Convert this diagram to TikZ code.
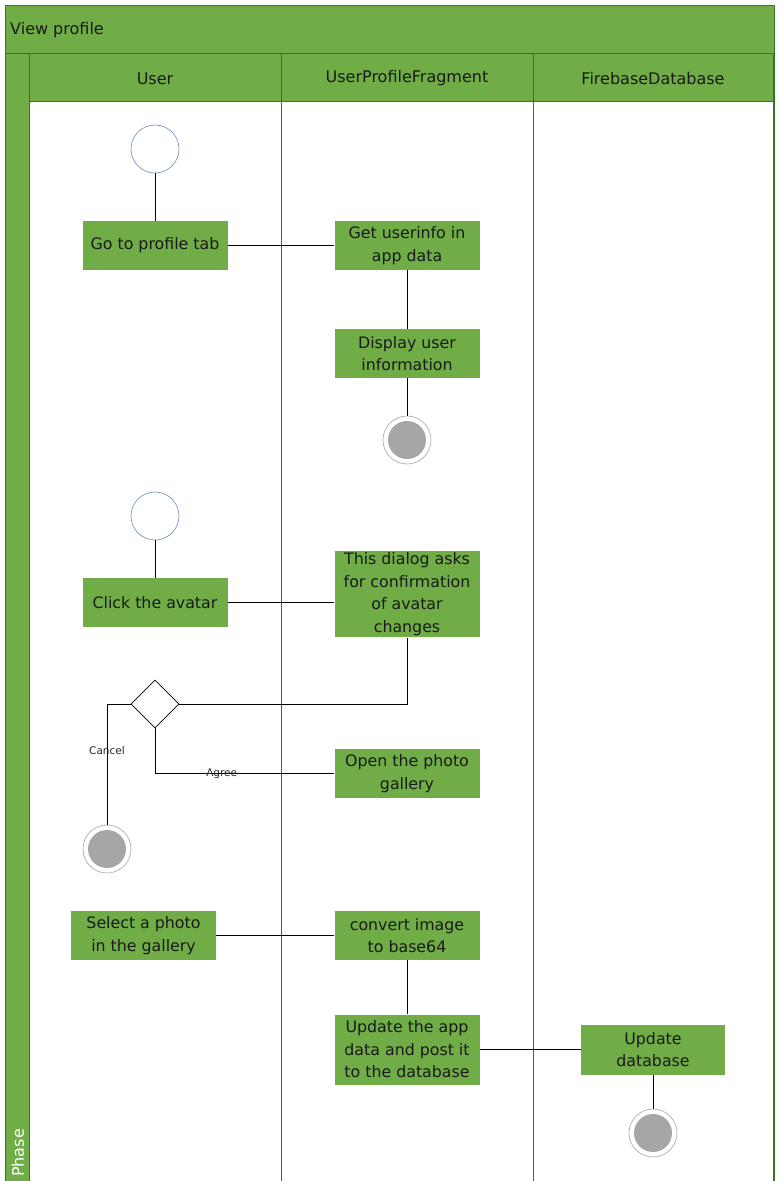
\documentclass[tikz,border=0pt]{standalone}
\usepackage{fontspec}
\setmainfont{DejaVu Sans}
\usetikzlibrary{shapes.geometric}
\definecolor{lanegreen}{HTML}{71AD47}
\definecolor{laneline}{HTML}{3B7324}
\definecolor{startblue}{HTML}{6C8EBF}
\definecolor{endgray}{HTML}{A6A6A6}
\begin{document}
\begin{tikzpicture}[x=1pt,y=-1pt,
  act/.style={rectangle,fill=lanegreen,draw=none,minimum width=145pt,
    minimum height=49pt,align=center,inner sep=2pt,font=\fontsize{15.8}{22.5}\selectfont,
    text=black!90},
  startnode/.style={circle,draw=startblue,fill=white,minimum size=48pt,inner sep=0pt,line width=0.6pt},
  endnode/.style={circle,draw=black!35,fill=white,minimum size=48pt,inner sep=0pt,line width=0.6pt,
    path picture={\fill[endgray] (path picture bounding box.center) circle (19pt);}},
  decision/.style={diamond,draw=black,fill=white,minimum size=48pt,inner sep=0pt,line width=0.8pt,aspect=1},
  flow/.style={draw=black,line width=0.9pt},
  guard/.style={font=\fontsize{10.5}{12}\selectfont,text=black!85},
  header/.style={font=\fontsize{16}{19}\selectfont,text=black!90}]
\useasboundingbox (0,0) rectangle (781,1181);
\fill[white] (0,0) rectangle (781,1181);

% pool frame, title bar, phase column and lane headers
\fill[lanegreen] (5,5) rectangle (774,53);
\fill[lanegreen] (5,53) rectangle (29,1181);
\fill[lanegreen] (29,53) rectangle (773,101);
\draw[laneline,line width=0.6pt] (5,5) rectangle (774,1181);
\draw[laneline,line width=0.6pt] (5,53) -- (774,53);
\draw[laneline,line width=0.6pt] (29,53) -- (29,1181);
\draw[laneline,line width=0.6pt] (29,101) -- (773,101);
\draw[laneline,line width=0.6pt] (281,53) -- (281,1181);
\draw[laneline,line width=0.6pt] (533,53) -- (533,1181);
\draw[laneline,line width=0.6pt] (773,53) -- (773,1181);

\node[header,anchor=west,inner sep=0pt] (title) at (10,30.5) {View profile};
\node[header] (laneUser) at (155,78.5) {User};
\node[header] (laneFrag) at (407,78.5) {UserProfileFragment};
\node[header] (laneDb) at (653,78.5) {FirebaseDatabase};
\node[header,text=white,rotate=90,anchor=west,inner sep=0pt] (phase) at (18,1177) {Phase};

% first flow: view profile
\node[startnode] (s1) at (155,149) {};
\node[act] (goTab) at (155,245.5) {Go to profile tab};
\node[act] (getInfo) at (407,245.5) {Get userinfo in\\app data};
\node[act] (display) at (407,353.5) {Display user\\information};
\node[endnode] (e1) at (407,440) {};

% second flow: change avatar
\node[startnode] (s2) at (155,516) {};
\node[act] (click) at (155,602.5) {Click the avatar};
\node[act,minimum height=85pt] (dialog) at (407,594) {This dialog asks\\for confirmation\\of avatar\\changes};
\node[decision] (choice) at (155,704) {};
\node[act] (gallery) at (407,773.5) {Open the photo\\gallery};
\node[endnode] (e2) at (107,849) {};
\node[act] (select) at (143.5,935.5) {Select a photo\\in the gallery};
\node[act] (convert) at (407,935.5) {convert image\\to base64};
\node[act,minimum height=70pt] (updApp) at (407,1049.5) {Update the app\\data and post it\\to the database};
\node[act,minimum width=144pt,minimum height=50pt] (updDb) at (653,1049.5) {Update\\database};
\node[endnode] (e3) at (653,1133) {};

% connectors
\draw[flow] (s1) -- (goTab);
\draw[flow] (goTab) -- (getInfo);
\draw[flow] (getInfo) -- (display);
\draw[flow] (display) -- (e1);
\draw[flow] (s2) -- (click);
\draw[flow] (click.east) -- (click.east -| dialog.west);
\draw[flow] (dialog.south) |- (choice.east);
\draw[flow] (choice.west) -| (e2.north) node[guard,pos=0.694] (cancelLbl) {Cancel};
\draw[flow] (choice.south) |- (gallery.west) node[guard,pos=0.686] (agreeLbl) {Agree};
\draw[flow] (select) -- (convert);
\draw[flow] (convert) -- (updApp);
\draw[flow] (updApp) -- (updDb);
\draw[flow] (updDb) -- (e3);
\end{tikzpicture}
\end{document}
